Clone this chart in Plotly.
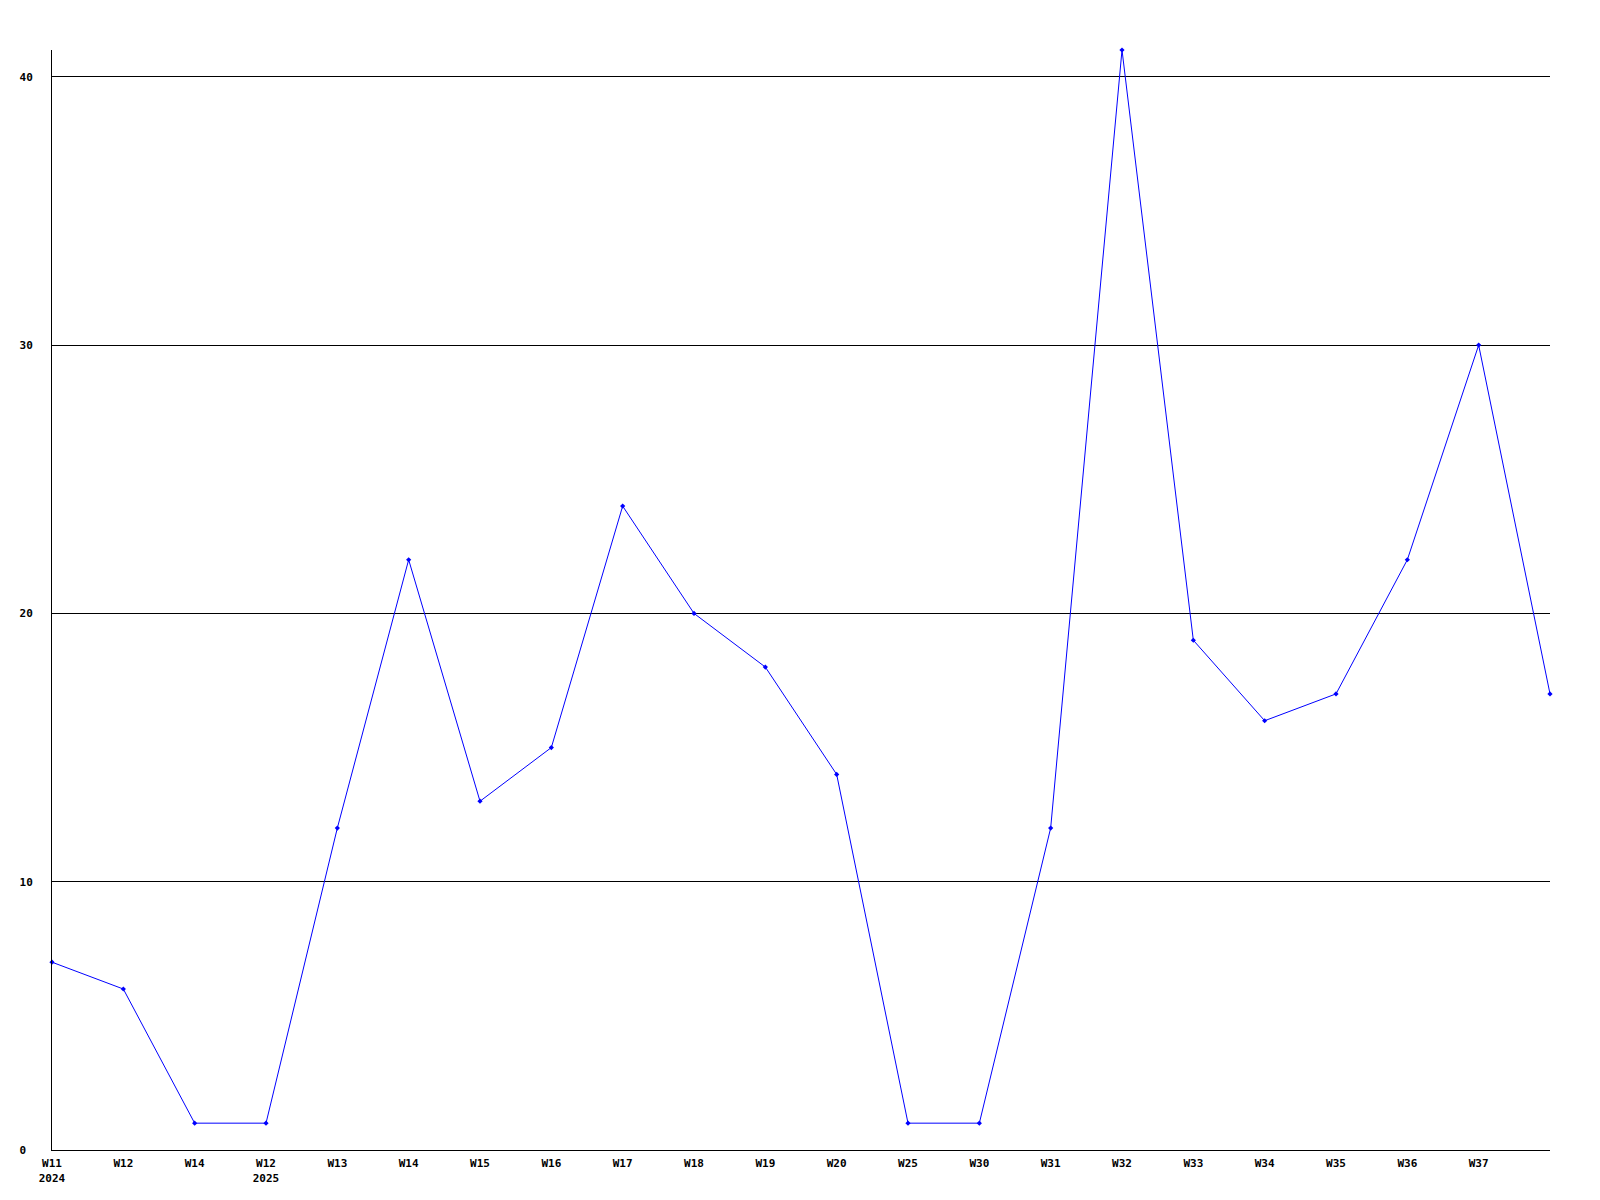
import plotly.graph_objects as go

categories = ["W11<br>2024", "W12", "W14", "W12<br>2025", "W13", "W14", "W15", "W16", "W17",
              "W18", "W19", "W20", "W25", "W30", "W31", "W32", "W33", "W34", "W35", "W36", "W37", ""]
values = [7, 6, 1, 1, 12, 22, 13, 15, 24, 20, 18, 14, 1, 1, 12, 41, 19, 16, 17, 22, 30, 17]
y_ticks = [0, 10, 20, 30, 40]
y_tick_labels = ["0\u00a0", "10", "20", "30", "40"]

x = list(range(len(values)))

fig = go.Figure()
fig.add_trace(go.Scatter(
    x=x, y=values, mode="lines+markers",
    line=dict(color="#0000ff", width=1),
    marker=dict(color="#0000ff", size=4, symbol="diamond"),
    hoverinfo="skip", cliponaxis=False,
))

font = dict(family="DejaVu Sans Mono", size=11, color="black", weight="bold")

fig.update_layout(
    width=1600, height=1200,
    margin=dict(l=41, r=58, t=42, b=58),
    paper_bgcolor="white", plot_bgcolor="white",
    showlegend=False,
    xaxis=dict(
        range=[0, len(values) - 1],
        tickmode="array", tickvals=x, ticktext=categories,
        showgrid=False, zeroline=False,
        showline=True, linecolor="black", linewidth=1,
        ticks="", tickfont=font, ticklabelstandoff=3,
    ),
    yaxis=dict(
        range=[0, 41],
        tickmode="array", tickvals=y_ticks, ticktext=y_tick_labels,
        showgrid=True, gridcolor="black", gridwidth=1,
        zeroline=False,
        showline=True, linecolor="black", linewidth=1,
        ticks="", tickfont=font, ticklabelstandoff=16,
    ),
)

fig.write_html("out.html")
